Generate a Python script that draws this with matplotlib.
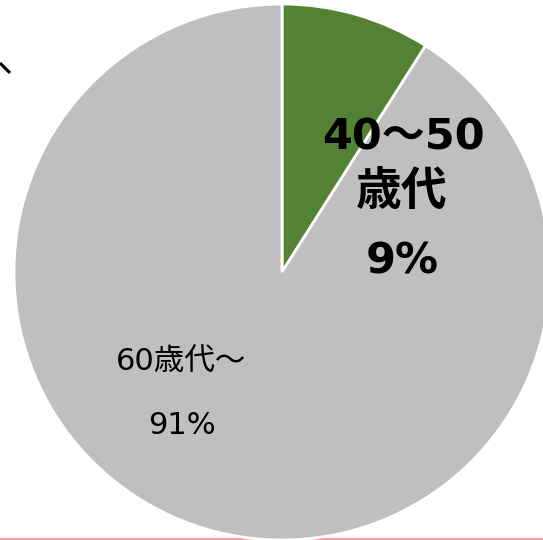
import matplotlib
matplotlib.use("Agg")
import matplotlib.pyplot as plt

plt.rcParams['font.family'] = ['DejaVu Sans', 'Noto Sans CJK JP']

categories = ["40～50\n歳代", "60歳代～"]
values = [9, 91]
colors = ["#548235", "#BFBFBF"]

W, H = 543, 540
fig = plt.figure(figsize=(W / 100, H / 100), dpi=100)
ax = fig.add_axes([0, 0, 1, 1])

# faint border line at the bottom (behind pie)
ax.plot([0, W], [1, 1], color="#F4A0A0", lw=1.5, zorder=0)

ax.pie(values, colors=colors, startangle=90, counterclock=False,
       center=(282, H - 272), radius=268,
       wedgeprops=dict(edgecolor="white", linewidth=2), frame=True)

ax.set_xlim(0, W)
ax.set_ylim(0, H)
ax.set_aspect('auto')
ax.axis('off')

# leader line fragment at top-left
ax.plot([0, 10], [H - 63, H - 73], color="black", lw=2.2, solid_capstyle='butt')

# labels
ax.text(403, H - 137, "40～50", ha="center", va="center", fontsize=31, fontweight="bold")
ax.text(402, H - 193, "歳代", ha="center", va="center", fontsize=33, fontweight="bold")
ax.text(402, H - 262, f"{values[0]}%", ha="center", va="center", fontsize=31, fontweight="bold")

ax.text(181, H - 362, categories[1], ha="center", va="center", fontsize=22)
ax.text(182, H - 426, f"{values[1]}%", ha="center", va="center", fontsize=22)

fig.savefig("out.png", dpi=100)
